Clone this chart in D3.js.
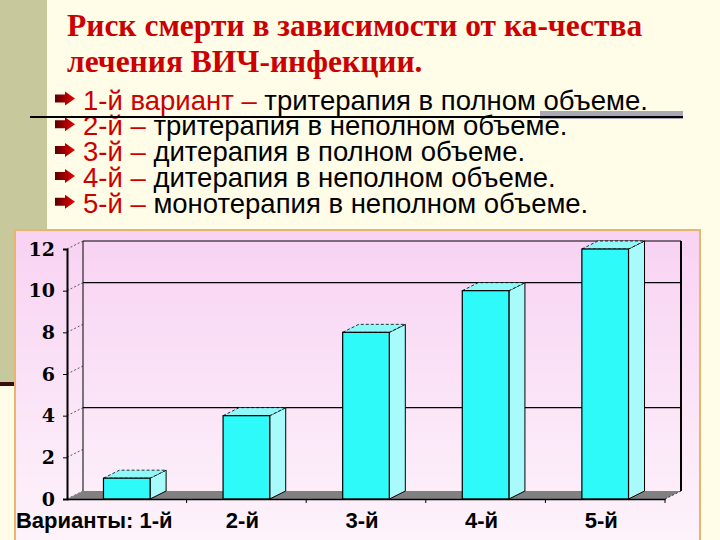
<!DOCTYPE html>
<html>
<head>
  <meta charset="utf-8">
  <title>Риск смерти</title>
  <script src="https://cdn.jsdelivr.net/npm/d3@7"></script>
  <style type="text/css">
    body { margin: 0; background: #fffde8; }
    svg { display: block; }
  </style>
</head>
<body>
<svg id="chart" width="720" height="540"></svg>

<script>
  // data
  var categories = ["1-й", "2-й", "3-й", "4-й", "5-й"];
  var riskValues = [1, 4, 8, 10, 12];
  var yTicks = [0, 2, 4, 6, 8, 10, 12];
  var gridValues = [4, 10];
  var axisPrefix = "Варианты: ";

  var titleLines = ["Риск смерти в зависимости от ка-чества", "лечения ВИЧ-инфекции."];
  var bulletLeads = ["1-й вариант – ", "2-й – ", "3-й – ", "4-й – ", "5-й – "];
  var bulletTexts = [
    "тритерапия в полном объеме.",
    "тритерапия в неполном объеме.",
    "дитерапия в полном объеме.",
    "дитерапия в неполном объеме.",
    "монотерапия в неполном объеме."
  ];

  var svg = d3.select('#chart');
  var defs = svg.append('defs');

  var pink = defs.append('linearGradient').attr('id', 'pink')
    .attr('x1', 0).attr('y1', 0).attr('x2', 0).attr('y2', 1);
  pink.append('stop').attr('offset', '0%').attr('stop-color', '#f8d2f3');
  pink.append('stop').attr('offset', '100%').attr('stop-color', '#fdf4fb');

  var arrowGrad = defs.append('linearGradient').attr('id', 'arrow');
  arrowGrad.append('stop').attr('offset', '0%').attr('stop-color', '#5a0000');
  arrowGrad.append('stop').attr('offset', '100%').attr('stop-color', '#ee0000');

  // slide background pieces
  svg.append('rect').attr('width', 720).attr('height', 540).attr('fill', '#fffde8');
  svg.append('rect').attr('x', 0).attr('y', 0).attr('width', 47).attr('height', 382)
    .attr('fill', '#c7c89b');
  svg.append('rect').attr('x', 0).attr('y', 382).attr('width', 15).attr('height', 4)
    .attr('fill', '#3a0c0c');

  // title
  svg.selectAll('text.title')
    .data(titleLines)
    .enter()
    .append('text')
    .attr('class', 'title')
    .attr('x', 67)
    .attr('y', function(d, i) { return 36 + i * 36; })
    .style('font-family', 'Liberation Serif, serif')
    .style('font-weight', 'bold')
    .style('font-size', '31.5px')
    .attr('fill', '#cc0000')
    .text(function(d) { return d; });

  // bullet list
  var rows = svg.selectAll('g.row')
    .data(bulletTexts)
    .enter()
    .append('g')
    .attr('class', 'row')
    .attr('transform', function(d, i) { return 'translate(0,' + (109.5 + i * 25.8) + ')'; });

  rows.append('path')
    .attr('d', 'M55,-15 L65,-15 L65,-18 L75,-11 L65,-4 L65,-7 L55,-7 Z')
    .attr('fill', 'url(#arrow)');

  var rowText = rows.append('text')
    .attr('x', 83)
    .style('font-family', 'Liberation Sans, Arial, sans-serif')
    .style('font-size', '27.5px');
  rowText.append('tspan')
    .attr('fill', '#cc0000')
    .text(function(d, i) { return bulletLeads[i]; });
  rowText.append('tspan')
    .attr('fill', '#000')
    .text(function(d) { return d; });

  // the stray rule across the list
  svg.append('rect').attr('x', 540).attr('y', 111).attr('width', 143).attr('height', 8)
    .attr('fill', '#a9a8b4');
  svg.append('line').attr('x1', 30).attr('x2', 683).attr('y1', 117).attr('y2', 117)
    .attr('stroke', '#000').attr('stroke-width', 2);

  // chart box
  svg.append('rect').attr('x', 15).attr('y', 230).attr('width', 685).attr('height', 320)
    .attr('fill', 'url(#pink)').attr('stroke', '#e6b56e').attr('stroke-width', 2);

  // scales
  var dx = 16, dy = -8;
  var x = d3.scaleBand().domain(categories).range([67, 665]);
  var y = d3.scaleLinear().domain([0, 12]).range([499, 249]);
  var barW = x.bandwidth() * 0.39;
  var x0 = function(c) { return x(c) + (x.bandwidth() - barW) / 2; };

  var plot = svg.append('g');

  // back wall
  plot.append('line').attr('x1', 67 + dx).attr('x2', 67 + dx)
    .attr('y1', y(12) + dy).attr('y2', y(0) + dy).attr('stroke', '#000');
  plot.append('line').attr('x1', 67 + dx).attr('x2', 665 + dx)
    .attr('y1', y(12) + dy).attr('y2', y(12) + dy).attr('stroke', '#000');
  plot.append('line').attr('x1', 665 + dx).attr('x2', 665 + dx)
    .attr('y1', y(12) + dy).attr('y2', y(0) + dy).attr('stroke', '#000').attr('stroke-width', 2);

  plot.selectAll('line.grid')
    .data(gridValues)
    .enter()
    .append('line')
    .attr('class', 'grid')
    .attr('x1', 67 + dx).attr('x2', 665 + dx)
    .attr('y1', function(d) { return y(d) + dy; })
    .attr('y2', function(d) { return y(d) + dy; })
    .attr('stroke', '#000').attr('stroke-width', 1.3);

  // side wall diagonals
  plot.selectAll('line.side')
    .data(yTicks)
    .enter()
    .append('line')
    .attr('class', 'side')
    .attr('x1', 67).attr('x2', 67 + dx)
    .attr('y1', function(d) { return y(d); })
    .attr('y2', function(d) { return y(d) + dy; })
    .attr('stroke', '#333').attr('stroke-width', 0.8).attr('stroke-dasharray', '2,2');

  // floor
  plot.append('path')
    .attr('d', 'M67,' + y(0) + ' L665,' + y(0) + ' L' + (665 + dx) + ',' + (y(0) + dy) +
      ' L' + (67 + dx) + ',' + (y(0) + dy) + ' Z')
    .attr('fill', '#808080');
  plot.append('line').attr('x1', 665).attr('x2', 665 + dx)
    .attr('y1', y(0)).attr('y2', y(0) + dy)
    .attr('stroke', '#333').attr('stroke-dasharray', '2,2');

  // bars
  var bars = plot.selectAll('g.bar')
    .data(riskValues)
    .enter()
    .append('g')
    .attr('class', 'bar');

  bars.append('path')
    .attr('d', function(d, i) {
      var l = x0(categories[i]) + barW;
      return 'M' + l + ',' + y(d) + ' L' + (l + dx) + ',' + (y(d) + dy) +
        ' L' + (l + dx) + ',' + (y(0) + dy) + ' L' + l + ',' + y(0) + ' Z';
    })
    .attr('fill', '#a9fbfb').attr('stroke', '#000').attr('stroke-width', 1);

  bars.append('path')
    .attr('d', function(d, i) {
      var l = x0(categories[i]);
      return 'M' + l + ',' + y(d) + ' L' + (l + dx) + ',' + (y(d) + dy) +
        ' L' + (l + barW + dx) + ',' + (y(d) + dy) + ' L' + (l + barW) + ',' + y(d) + ' Z';
    })
    .attr('fill', '#8ff9f9').attr('stroke', '#000').attr('stroke-width', 0.8)
    .attr('stroke-dasharray', '3,2');

  bars.append('rect')
    .attr('x', function(d, i) { return x0(categories[i]); })
    .attr('y', function(d) { return y(d); })
    .attr('width', barW)
    .attr('height', function(d) { return y(0) - y(d); })
    .attr('fill', '#2ffafa').attr('stroke', '#000').attr('stroke-width', 1.2);

  // y axis
  var yAxis = plot.append('g')
    .attr('transform', 'translate(67,0)')
    .call(d3.axisLeft(y).tickValues(yTicks).tickSize(4).tickPadding(8));
  yAxis.select('.domain').attr('stroke', '#000').attr('stroke-width', 2);
  yAxis.selectAll('text')
    .style('font-family', 'DejaVu Serif, serif')
    .style('font-weight', 'bold')
    .style('font-size', '19px')
    .attr('fill', '#000');

  // x axis
  var xAxis = plot.append('g')
    .attr('transform', 'translate(0,' + y(0) + ')')
    .call(d3.axisBottom(x).tickSize(0).tickFormat(''));
  xAxis.select('.domain').attr('stroke', '#000').attr('stroke-width', 1.5);

  plot.selectAll('line.xtick')
    .data(categories)
    .enter()
    .append('line')
    .attr('class', 'xtick')
    .attr('x1', function(d) { return x(d) + x.bandwidth(); })
    .attr('x2', function(d) { return x(d) + x.bandwidth(); })
    .attr('y1', y(0)).attr('y2', y(0) + 4)
    .attr('stroke', '#000');

  plot.selectAll('text.xlab')
    .data(categories)
    .enter()
    .append('text')
    .attr('class', 'xlab')
    .attr('x', function(d, i) {
      return i === 0 ? x(d) + x.bandwidth() - 14 : x(d) + x.bandwidth() / 2 - 4;
    })
    .attr('y', 528)
    .attr('text-anchor', function(d, i) { return i === 0 ? 'end' : 'middle'; })
    .style('font-family', 'Liberation Sans, Arial, sans-serif')
    .style('font-weight', 'bold')
    .style('font-size', '22px')
    .attr('fill', '#000')
    .text(function(d, i) { return i === 0 ? axisPrefix + d : d; });
</script>
</body>
</html>
